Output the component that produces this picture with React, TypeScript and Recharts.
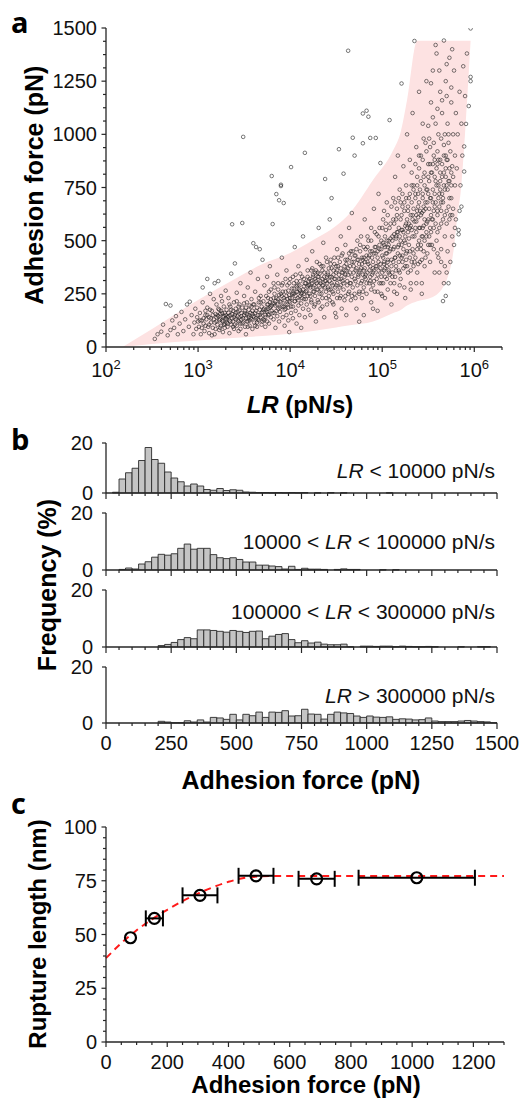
import React from "react";
import { Area, Bar, BarChart, ComposedChart, ErrorBar, Line, Scatter, XAxis, YAxis } from "recharts";

const FONT = '"Liberation Sans", Arial, sans-serif';
const AXIS = "#262626";

// ---- panel a: adhesion force vs loading rate (x = log10 LR) ----
const bandLogLR = [2.18, 2.5, 3.0, 3.38, 3.7, 4.0, 4.25, 4.5, 4.65, 4.9, 5.12, 5.2, 5.27, 5.38, 5.55, 5.7, 5.78, 5.82, 5.85, 5.9, 5.96];
const bandLow = [0, 14, 30, 42, 52, 62, 75, 92, 102, 120, 160, 174, 195, 215, 235, 315, 470, 630, 720, 1006, 1440];
const bandHigh = [0, 85, 221, 315, 390, 442, 503, 570, 630, 785, 926, 1010, 1161, 1440, 1440, 1440, 1440, 1440, 1440, 1440, 1440];

const lrForcePoints: [number, number][] = [
  [2.53,38],[2.56,60],[2.6,72],[2.62,105],[2.65,202],[2.67,55],[2.7,80],[2.72,125],[2.74,90],[2.76,145],[2.78,60],[2.8,110],[2.82,165],[2.84,75],[2.86,130],[2.88,200],[2.9,95],[2.91,213],[2.93,150],[2.95,60],[2.96,115],[2.97,180],[2.98,85],[2.99,140],[2.7,195],
  [3.01,95],[3.02,160],[3.03,60],[3.04,125],[3.05,210],[3.06,110],[3.07,75],[3.08,150],[3.09,130],[3.1,185],[3.11,95],[3.12,65],[3.12,140],[3.13,250],[3.14,115],[3.15,170],[3.16,90],[3.17,130],[3.18,300],[3.18,60],[3.19,155],[3.2,120],[3.2,200],[3.21,105],[3.22,145],[3.23,80],[3.23,175],[3.24,130],[3.25,240],[3.25,100],[3.26,160],[3.27,120],[3.27,70],[3.28,145],[3.28,190],[3.29,110],[3.3,135],[3.3,265],[3.15,55],[3.05,280],[3.1,320],[3.22,310],[3.08,100],[3.26,215],[3.29,90],[3.13,175],[3.19,85],[3.24,155],[3.02,125],[3.17,225],
  [3.31,115],[3.31,175],[3.32,140],[3.32,95],[3.33,160],[3.33,230],[3.34,125],[3.34,65],[3.35,150],[3.35,190],[3.36,105],[3.36,345],[3.37,577],[3.37,135],[3.38,170],[3.38,120],[3.39,210],[3.39,85],[3.4,393],[3.4,150],[3.41,130],[3.41,180],[3.42,100],[3.42,255],[3.43,145],[3.43,165],[3.44,120],[3.44,75],[3.45,200],[3.45,140],[3.46,110],[3.46,300],[3.47,160],[3.47,130],[3.48,583],[3.48,185],[3.49,988],[3.49,115],[3.5,150],[3.5,240],[3.51,95],[3.51,170],[3.52,135],[3.52,60],[3.53,210],[3.53,155],[3.54,120],[3.54,280],[3.55,175],[3.55,140],[3.56,100],[3.56,195],[3.57,160],[3.57,350],[3.58,130],[3.58,225],[3.59,85],[3.59,170],[3.6,488],[3.6,145],[3.61,200],[3.61,115],[3.62,260],[3.62,160],[3.63,135],[3.63,470],[3.64,185],[3.64,95],[3.65,150],[3.65,320],[3.66,210],[3.66,125],[3.67,175],[3.67,460],[3.68,140],[3.68,240],[3.69,105],[3.69,190],[3.7,165],[3.7,410],
  [3.71,130],[3.71,215],[3.72,180],[3.72,290],[3.73,150],[3.73,95],[3.74,240],[3.74,175],[3.75,120],[3.75,330],[3.76,200],[3.76,155],[3.77,260],[3.77,110],[3.78,185],[3.78,380],[3.79,140],[3.79,225],[3.8,804],[3.8,170],[3.81,578],[3.81,205],[3.82,130],[3.82,300],[3.83,250],[3.83,160],[3.84,90],[3.84,195],[3.85,719],[3.85,230],[3.86,145],[3.86,340],[3.87,180],[3.87,270],[3.88,690],[3.88,120],[3.89,215],[3.89,165],[3.9,757],[3.9,763],[3.9,250],[3.91,190],[3.91,420],[3.92,140],[3.92,300],[3.93,677],[3.93,230],[3.94,175],[3.94,100],[3.95,260],[3.95,200],[3.96,150],[3.96,360],[3.97,225],[3.97,290],[3.98,125],[3.98,185],[3.99,245],[3.99,70],[4.0,210],[4.0,320],[4.01,846],[4.01,160],[4.02,275],[4.02,230],[4.03,190],[4.03,135],[4.04,300],[4.04,250],[4.05,215],[4.05,470],[4.06,170],[4.06,340],[4.07,260],[4.07,110],[4.08,230],[4.08,290],[4.09,195],[4.09,380],[4.1,150],[4.1,270],[4.11,240],[4.11,310],[4.12,205],[4.12,90],[4.13,330],[4.13,255],[4.14,180],[4.14,520],[4.15,285],[4.15,225],[4.16,913],[4.16,140],[4.17,300],[4.17,260],[4.18,200],[4.18,410],[4.19,240],[4.19,330],[4.2,175],[4.2,290],
  [4.21,320],[4.21,250],[4.22,280],[4.22,150],[4.23,360],[4.23,210],[4.24,300],[4.24,450],[4.25,260],[4.25,330],[4.26,190],[4.26,290],[4.27,350],[4.27,240],[4.28,310],[4.28,120],[4.29,270],[4.29,400],[4.3,330],[4.3,220],[4.31,290],[4.31,560],[4.32,250],[4.32,345],[4.33,300],[4.33,180],[4.34,380],[4.34,270],[4.35,320],[4.35,230],[4.36,290],[4.36,490],[4.37,350],[4.37,140],[4.38,790],[4.38,310],[4.39,260],[4.39,420],[4.4,300],[4.4,200],[4.41,340],[4.41,280],[4.42,370],[4.42,240],[4.43,310],[4.43,600],[4.44,270],[4.44,390],[4.45,700],[4.45,330],[4.46,210],[4.46,290],[4.47,360],[4.47,250],[4.48,420],[4.48,320],[4.49,160],[4.49,280],[4.5,140],[4.5,350],[4.51,300],[4.51,460],[4.52,260],[4.52,380],[4.53,930],[4.53,320],[4.54,230],[4.54,400],[4.55,290],[4.55,520],[4.56,350],[4.56,180],[4.57,310],[4.57,440],[4.58,815],[4.58,270],[4.59,380],[4.59,330],[4.6,240],[4.6,480],[4.61,360],[4.61,150],[4.62,290],[4.62,410],[4.63,1393],[4.63,340],[4.64,260],[4.64,560],[4.65,380],[4.65,300],[4.66,220],[4.66,450],[4.67,330],[4.67,630],[4.68,984],[4.68,280],[4.69,400],[4.69,350],[4.7,900],[4.7,250],[4.71,430],[4.71,310],[4.72,370],[4.72,180],[4.73,500],[4.73,290],[4.74,340],[4.74,410],[4.75,119],[4.75,260],
  [4.76,360],[4.76,450],[4.77,300],[4.77,520],[4.78,390],[4.78,230],[4.79,1098],[4.79,958],[4.79,340],[4.8,420],[4.8,280],[4.81,370],[4.81,600],[4.82,320],[4.82,460],[4.83,1111],[4.83,250],[4.84,400],[4.84,350],[4.85,1083],[4.85,500],[4.86,300],[4.86,430],[4.87,983],[4.87,380],[4.88,210],[4.88,560],[4.89,340],[4.89,450],[4.9,290],[4.9,400],[4.91,650],[4.91,360],[4.92,470],[4.92,260],[4.93,983],[4.93,380],[4.94,320],[4.94,530],[4.95,420],[4.95,170],[4.96,360],[4.96,720],[4.97,300],[4.97,460],[4.98,865],[4.98,390],[4.99,250],[4.99,500],[5.0,350],[5.0,430],[5.01,600],[5.01,300],[5.02,400],[5.02,480],[5.03,230],[5.03,370],[5.04,550],[5.04,440],[5.05,320],[5.05,680],[5.06,400],[5.06,270],[5.07,500],[5.07,360],[5.08,1067],[5.08,450],[5.09,300],[5.09,580],[5.1,410],[5.1,200],
  [4.78,420],[4.81,330],[4.84,470],[4.87,310],[4.9,350],[4.93,440],[4.96,400],[4.99,330],[5.02,360],[5.05,380],[5.08,340],[4.8,150],[4.9,180],[5.0,240],[4.95,260],[4.85,390],[4.88,270],[5.03,520],[5.06,470],[4.97,560],
  [5.11,350],[5.11,520],[5.12,460],[5.12,700],[5.13,300],[5.13,580],[5.14,420],[5.14,800],[5.15,380],[5.15,520],[5.16,650],[5.16,250],[5.17,470],[5.17,900],[5.18,360],[5.18,560],[5.19,430],[5.19,740],[5.2,500],[5.2,320],[5.21,1239],[5.21,620],[5.22,400],[5.22,550],[5.23,850],[5.23,460],[5.24,280],[5.24,680],[5.25,520],[5.25,380],[5.26,760],[5.26,440],[5.27,600],[5.27,1000],[5.28,350],[5.28,540],[5.29,700],[5.29,480],[5.3,420],[5.3,880],[5.31,620],[5.31,300],[5.32,550],[5.32,760],[5.33,460],[5.33,1100],[5.34,380],[5.34,650],[5.35,1439],[5.35,520],[5.36,720],[5.36,420],[5.37,940],[5.37,590],[5.38,350],[5.38,800],[5.39,480],[5.39,660],[5.4,1200],[5.4,560],[5.41,400],[5.41,740],[5.42,620],[5.42,900],[5.43,300],[5.43,520],[5.44,700],[5.44,1050],[5.45,450],[5.45,800],[5.46,600],[5.46,380],[5.47,960],[5.47,680],[5.48,520],[5.48,1250],[5.49,740],[5.49,440],[5.5,860],[5.5,600],
  [5.12,400],[5.15,600],[5.18,480],[5.21,420],[5.24,500],[5.27,450],[5.3,560],[5.33,620],[5.36,560],[5.39,720],[5.42,460],[5.45,640],[5.48,580],[5.14,330],[5.2,680],[5.26,580],[5.32,400],[5.38,640],[5.44,560],[5.5,720],[5.16,540],[5.22,720],[5.28,640],[5.34,760],[5.4,840],[5.46,760],[5.13,260],[5.19,290],[5.25,230],[5.31,270],[5.37,300],[5.43,250],
  [5.51,520],[5.51,980],[5.52,700],[5.52,400],[5.53,1150],[5.53,620],[5.54,820],[5.54,480],[5.55,1300],[5.55,740],[5.56,560],[5.56,900],[5.57,350],[5.57,660],[5.58,1050],[5.58,780],[5.59,500],[5.59,1380],[5.6,860],[5.6,640],[5.61,420],[5.61,1000],[5.62,720],[5.62,560],[5.63,1200],[5.63,880],[5.64,460],[5.64,680],[5.65,1100],[5.65,800],[5.66,216],[5.66,600],[5.67,1441],[5.67,300],[5.67,950],[5.68,740],[5.68,520],[5.69,240],[5.69,1250],[5.7,350],[5.7,880],[5.7,640],[5.71,1050],[5.71,450],[5.72,300],[5.72,780],[5.73,1360],[5.73,600],[5.74,920],[5.74,400],[5.75,700],[5.75,1150],[5.76,520],[5.76,850],[5.77,1000],[5.77,650],[5.78,480],[5.78,1300],[5.79,760],[5.79,900],[5.8,600],[5.8,1100],
  [5.52,860],[5.55,600],[5.58,680],[5.61,760],[5.64,580],[5.67,820],[5.7,760],[5.73,700],[5.76,620],[5.79,560],[5.53,540],[5.57,880],[5.6,540],[5.63,780],[5.66,700],[5.69,900],[5.72,1000],[5.75,820],
  [5.81,840],[5.82,1000],[5.83,530],[5.83,550],[5.84,1200],[5.85,760],[5.86,1050],[5.87,900],[5.88,1320],[5.89,943],[5.89,825],[5.9,1180],[5.91,1049],[5.92,1380],[5.94,1133],[5.96,1250],[5.96,1270],[5.96,1498],[5.86,660],[5.84,640],
];

// extra points read from the darkest parts of the cloud
const lrForceCore: [number, number][] = [
  [3.21,150],[3.23,125],[3.25,170],[3.27,140],[3.29,160],[3.31,130],[3.33,145],[3.35,120],[3.37,155],[3.39,140],[3.41,160],[3.43,125],[3.45,170],[3.47,145],[3.49,135],[3.51,160],[3.53,120],[3.55,150],[3.57,135],[3.59,155],[3.61,140],[3.63,170],[3.65,130],[3.67,150],[3.69,160],[3.71,175],[3.73,140],[3.75,165],[3.32,110],[3.36,175],[3.4,105],[3.44,190],[3.48,110],[3.52,185],[3.56,125],[3.6,200],[3.64,115],[3.68,210],[3.72,125],[3.76,230],[3.34,200],[3.38,95],[3.42,215],[3.46,85],[3.5,205],[3.54,95],[3.58,190],[3.62,100],[3.66,230],[3.7,120],[3.3,150],[3.26,125],[3.22,180],[3.28,105],[3.24,90],[3.2,140],[3.18,115],[3.16,150],[3.14,135],[3.12,105],[3.1,150],[3.08,170],[3.06,135],[3.04,90],[3.0,120],
  [3.76,180],[3.78,210],[3.8,195],[3.82,230],[3.84,215],[3.86,200],[3.88,245],[3.9,210],[3.92,260],[3.94,220],[3.96,240],[3.98,265],[4.0,230],[4.02,250],[4.04,275],[4.06,240],[4.08,260],[4.1,290],[4.12,250],[4.14,270],[4.16,300],[4.18,265],[4.2,310],[3.77,150],[3.81,160],[3.85,170],[3.89,185],[3.93,190],[3.97,200],[4.01,190],[4.05,215],[4.09,220],[4.13,230],[4.17,225],[3.79,270],[3.83,280],[3.87,300],[3.91,290],[3.95,320],[3.99,300],[4.03,330],[4.07,310],[4.11,345],[4.15,320],[4.19,360],[3.75,200],[3.79,190],[3.83,205],[3.87,225],[3.91,240],[3.95,180],[3.99,215],[4.03,255],[4.07,285],[4.11,265],[4.15,250],[4.19,285],
  [4.21,290],[4.23,310],[4.25,280],[4.27,320],[4.29,300],[4.31,330],[4.33,310],[4.35,290],[4.37,330],[4.39,310],[4.41,350],[4.43,330],[4.45,300],[4.47,340],[4.49,320],[4.51,360],[4.53,340],[4.55,370],[4.57,350],[4.59,360],[4.61,390],[4.63,370],[4.65,350],[4.67,400],[4.69,380],[4.71,360],[4.73,410],[4.75,390],[4.77,370],[4.79,410],
  [4.22,240],[4.26,260],[4.3,270],[4.34,250],[4.38,280],[4.42,270],[4.46,260],[4.5,290],[4.54,280],[4.58,300],[4.62,310],[4.66,300],[4.7,320],[4.74,330],[4.78,310],
  [4.24,370],[4.28,360],[4.32,390],[4.36,380],[4.4,400],[4.44,410],[4.48,390],[4.52,420],[4.56,430],[4.6,410],[4.64,440],[4.68,450],[4.72,460],[4.76,480],[4.8,470],
  [4.23,220],[4.27,200],[4.31,210],[4.35,190],[4.39,230],[4.43,220],[4.47,200],[4.51,230],[4.55,240],[4.59,220],[4.63,250],[4.67,240],[4.71,230],[4.75,250],[4.79,260],
  [4.25,340],[4.3,350],[4.35,360],[4.4,330],[4.45,370],[4.5,380],[4.55,320],[4.6,340],[4.65,420],[4.7,430],[4.75,350],[4.8,360],
  [4.81,400],[4.83,430],[4.85,420],[4.87,450],[4.89,420],[4.91,440],[4.93,470],[4.95,450],[4.97,480],[4.99,460],[5.01,490],[5.03,470],[5.05,500],[5.07,480],[5.09,510],[5.11,500],[5.13,530],[5.15,510],[5.17,540],[5.19,520],[5.21,550],[5.23,540],[5.25,570],[5.27,560],[5.29,580],[5.31,570],[5.33,600],[5.35,590],[5.37,620],[5.39,610],[5.41,640],[5.43,630],[5.45,660],[5.47,650],[5.49,680],
  [4.82,340],[4.86,360],[4.9,370],[4.94,380],[4.98,370],[5.02,390],[5.06,410],[5.1,380],[5.14,420],[5.18,400],[5.22,430],[5.26,410],[5.3,450],[5.34,440],[5.38,460],[5.42,480],[5.46,500],[5.5,480],
  [4.84,520],[4.88,500],[4.92,540],[4.96,520],[5.0,560],[5.04,580],[5.08,560],[5.12,600],[5.16,620],[5.2,600],[5.24,640],[5.28,660],[5.32,680],[5.36,700],[5.4,680],[5.44,720],[5.48,740],
  [4.83,300],[4.87,330],[4.91,310],[4.95,340],[4.99,300],[5.03,330],[5.07,350],[5.11,330],[5.15,360],[5.19,350],[5.23,370],[5.27,380],[5.31,360],[5.35,400],[5.39,390],[5.43,410],[5.47,420],
  [5.01,420],[5.05,440],[5.09,460],[5.13,470],[5.17,440],[5.21,480],[5.25,490],[5.29,510],[5.33,520],[5.37,540],[5.41,560],[5.45,570],[5.49,590],
  [5.02,640],[5.06,620],[5.1,660],[5.14,680],[5.18,700],[5.22,660],[5.26,700],[5.3,720],[5.34,740],[5.38,760],[5.42,780],[5.46,820],[5.5,800],
  [5.32,820],[5.36,860],[5.4,900],[5.44,880],[5.48,920],[5.52,940],[5.56,960],[5.6,920],[5.64,980],[5.68,1000],[5.72,960],
  [5.51,650],[5.53,700],[5.55,680],[5.57,720],[5.59,760],[5.61,700],[5.63,740],[5.65,720],[5.67,760],[5.69,800],[5.71,740],[5.73,780],[5.75,760],
  [5.52,560],[5.54,600],[5.56,640],[5.58,580],[5.6,620],[5.62,660],[5.64,640],[5.66,680],[5.68,620],[5.7,580],[5.72,660],[5.74,620],
  [5.51,780],[5.53,820],[5.55,860],[5.57,800],[5.59,840],[5.61,880],[5.63,820],[5.65,860],[5.67,900],[5.69,840],[5.71,880],[5.73,840],[5.77,800],
  [5.45,980],[5.5,1040],[5.55,1080],[5.6,1120],[5.65,1160],[5.7,1180],[5.75,1220],[5.53,1240],[5.62,1300],[5.7,1330],[5.58,1420],[5.76,1400],
  [5.4,500],[5.44,520],[5.48,540],[5.52,480],[5.56,460],[5.6,440],[5.64,400],[5.68,380],[5.62,350],
];

// ---- panel b: histograms, 25 pN bins from 0 to 1500 ----
const binStarts = Array.from({ length: 60 }, (_, i) => i * 25);
const freqSlow = [
  0, 0.3, 5.6, 8.1, 9.9, 13.0, 18.2, 13.4, 11.9, 8.4,
  6.0, 4.5, 2.8, 3.6, 2.8, 1.4, 1.1, 1.8, 1.0, 1.3,
  1.1, 0.4, 0.3, 0.2, 0.2, 0.1, 0.2, 0.1, 0.2, 0.1,
  0.2, 0, 0.1, 0, 0.2, 0, 0.1, 0, 0, 0,
  0, 0, 0, 0.1, 0, 0, 0, 0, 0, 0,
  0, 0, 0, 0, 0, 0, 0, 0, 0, 0,
];
const freqMid = [
  0, 0, 0.2, 0.7, 0.35, 2.1, 2.9, 4.5, 5.5, 5.2,
  5.7, 7.6, 9.1, 7.3, 7.6, 7.6, 5.4, 4.3, 4.0, 4.3,
  3.7, 2.8, 2.8, 1.7, 1.7, 1.4, 1.2, 0.35, 1.3, 0.2,
  0.6, 0.3, 0.3, 0.2, 0, 0.2, 0.4, 0.2, 0.2, 0,
  0, 0, 0.1, 0, 0.1, 0, 0, 0, 0, 0,
  0, 0, 0, 0, 0, 0, 0, 0, 0, 0,
];
const freqFast = [
  0, 0, 0, 0, 0, 0, 0, 0, 0.5, 0.9,
  1.6, 2.6, 3.3, 2.9, 6.0, 6.0, 5.8, 5.5, 5.2, 5.8,
  5.5, 5.1, 5.5, 5.6, 2.9, 3.8, 4.4, 4.7, 2.6, 1.5,
  2.2, 1.4, 1.7, 1.0, 0.8, 0.8, 1.0, 0.1, 0, 0.3,
  0.3, 0.2, 0.3, 0.3, 0.1, 0.3, 0.2, 0.1, 0.1, 0.2,
  0.1, 0, 0, 0, 0.1, 0, 0, 0.1, 0.1, 0,
];
const freqFastest = [
  0, 0, 0, 0, 0, 0, 0, 0, 0.6, 0.35,
  0.1, 0.1, 0.8, 0.35, 1.1, 0.35, 2.0, 1.8, 1.3, 3.1,
  1.1, 3.1, 2.6, 3.9, 2.0, 3.9, 3.8, 4.4, 2.5, 2.6,
  4.9, 3.2, 3.1, 1.4, 3.1, 3.9, 3.6, 3.4, 2.5, 2.0,
  2.5, 2.1, 2.0, 2.2, 1.3, 1.5, 1.4, 1.1, 1.2, 1.8,
  0.7, 0.5, 0.5, 0.5, 0.7, 0.9, 0.7, 0.5, 0.4, 0.1,
];

// ---- panel c: rupture length vs adhesion force ----
const cForce = [80, 158, 307, 490, 688, 1015];
const cLength = [48.5, 57.5, 68.2, 77.3, 75.9, 76.4];
const cForceErr = [null, 28, 57, 57, 59, 190];
const fitForce = [0, 50, 100, 150, 200, 250, 300, 350, 400, 450, 500, 550, 600, 800, 1000, 1200, 1300];
const fitLength = [39, 46, 52, 57, 61.5, 65.5, 69, 72, 74.5, 76.3, 77, 77.2, 77.2, 77.2, 77.2, 77.2, 77.2];

const bandData = bandLogLR.map((x, i) => ({ x, band: [bandLow[i], bandHigh[i]] }));
const scatterData = [...lrForcePoints, ...lrForceCore].map(([x, y]) => ({ x, y }));
const cData = cForce.map((x, i) => ({ x, y: cLength[i], err: cForceErr[i] ?? undefined }));
const fitData = fitForce.map((x, i) => ({ x, y: fitLength[i] }));

const LOG_END = Math.log10(2e6);
const logTicks: number[] = [];
for (let d = 2; d <= 6; d++) for (let k = 1; k <= 9; k++) { const t = Math.log10(k * 10 ** d); if (t <= LOG_END + 1e-9) logTicks.push(t); }
const range = (a: number, b: number, s: number) => Array.from({ length: Math.round((b - a) / s) + 1 }, (_, i) => a + i * s);

const isIn = (list: number[], v: number) => list.some((m) => Math.abs(m - v) < 1e-6);

const xTick = (majors: number[], labelDy: number, label?: (v: number) => React.ReactNode, majorLen = 5, minorLen = 3) =>
  (p: any) => {
    const v = p.payload.value;
    const major = isIn(majors, v);
    return (
      <g>
        <line x1={p.x} x2={p.x} y1={p.y} y2={p.y + (major ? majorLen : minorLen)} stroke={AXIS} strokeWidth={1.2} />
        {major && label ? <text x={p.x} y={p.y + labelDy} textAnchor="middle" fontSize={20} fill="#111" fontFamily={FONT}>{label(v)}</text> : null}
      </g>
    );
  };

const yTick = (majors: number[], gap: number, majorLen = 5, minorLen = 3) =>
  (p: any) => {
    const v = p.payload.value;
    const major = isIn(majors, v);
    return (
      <g>
        <line x1={p.x - (major ? majorLen : minorLen)} x2={p.x} y1={p.y} y2={p.y} stroke={AXIS} strokeWidth={1.2} />
        {major ? <text x={p.x - gap} y={p.y + 7} textAnchor="end" fontSize={20} fill="#111" fontFamily={FONT}>{v}</text> : null}
      </g>
    );
  };

const pow10 = (v: number) => (
  <>
    <tspan>10</tspan>
    <tspan dy={-8} fontSize={13}>{Math.round(v)}</tspan>
  </>
);

const axisLine = { stroke: AXIS, strokeWidth: 1.3 };

function Histogram({ values, top, plotH, labels }: { values: number[]; top: number; plotH: number; labels: boolean }) {
  const data = binStarts.map((s, i) => ({ bin: s + 12.5, f: values[i] }));
  const axisH = labels ? 34 : 10;
  const padTop = 12;
  return (
    <div style={{ position: "absolute", left: 0, top: top - padTop }}>
      <BarChart width={524} height={plotH + padTop + axisH} data={data} margin={{ top: padTop, right: 27, bottom: 0, left: 0 }} barCategoryGap={0} barGap={0}>
        <XAxis dataKey="bin" type="number" domain={[0, 1500]} ticks={range(0, 1500, 50)} interval={0} height={axisH}
          tickSize={0} tickMargin={0} tickLine={false} axisLine={axisLine}
          tick={xTick(range(0, 1500, 250), 27, labels ? (v) => v : undefined, 6, 3)} />
        <YAxis type="number" domain={[0, 20]} ticks={[0, 20]} interval={0} width={106} tickSize={0} tickMargin={0} tickLine={false}
          axisLine={axisLine} tick={yTick([0, 20], 13, 4)} />
        <Bar dataKey="f" barSize={6.5} fill="#c4c4c4" stroke="#2a2a2a" strokeWidth={0.9} isAnimationActive={false} />
      </BarChart>
    </div>
  );
}

export default function App() {
  return (
    <div style={{ position: "absolute", left: 0, top: 0, width: 524, height: 1101, background: "#fff", fontFamily: FONT }}>
      <div style={{ position: "absolute", left: 0, top: 0 }}>
        <ComposedChart width={524} height={392} margin={{ top: 28, right: 22, bottom: 0, left: 0 }}>
          <XAxis type="number" dataKey="x" domain={[2, LOG_END]} ticks={logTicks} interval={0} height={45} allowDataOverflow
            tickSize={0} tickMargin={0} tickLine={false} axisLine={axisLine} tick={xTick([2, 3, 4, 5, 6], 30, pow10, 5, 3)} />
          <YAxis type="number" domain={[0, 1500]} ticks={range(0, 1500, 62.5)} interval={0} width={106} allowDataOverflow
            tickSize={0} tickMargin={0} tickLine={false} axisLine={axisLine} tick={yTick(range(0, 1500, 250), 9, 4.5, 3)} />
          <Area data={bandData} dataKey="band" type="monotone" fill="#fde2e2" fillOpacity={1} stroke="none" isAnimationActive={false} />
          <Scatter data={scatterData} dataKey="y" isAnimationActive={false}
            shape={(p: any) => <circle cx={p.cx} cy={p.cy} r={1.8} fill="none" stroke="#222" strokeOpacity={0.8} strokeWidth={0.75} />} />
        </ComposedChart>
      </div>

      <Histogram values={freqSlow} top={443} plotH={50} labels={false} />
      <Histogram values={freqMid} top={513} plotH={57} labels={false} />
      <Histogram values={freqFast} top={590} plotH={57} labels={false} />
      <Histogram values={freqFastest} top={667} plotH={56} labels={true} />

      <div style={{ position: "absolute", left: 0, top: 800 }}>
        <ComposedChart width={524} height={278} margin={{ top: 27, right: 20, bottom: 0, left: 0 }}>
          <XAxis type="number" dataKey="x" domain={[0, 1300]} ticks={range(0, 1300, 50)} interval={0} height={36}
            tickSize={0} tickMargin={0} tickLine={false} axisLine={axisLine} tick={xTick(range(0, 1200, 200), 27, (v) => v, 5, 3)} />
          <YAxis type="number" domain={[0, 100]} ticks={range(0, 100, 5)} interval={0} width={106}
            tickSize={0} tickMargin={0} tickLine={false} axisLine={axisLine} tick={yTick(range(0, 100, 25), 9, 4.5, 3)} />
          <Line data={fitData} dataKey="y" type="monotone" stroke="#ff1a1a" strokeWidth={2} strokeDasharray="7 5" dot={false} isAnimationActive={false} />
          <Scatter data={cData} dataKey="y" isAnimationActive={false}
            shape={(p: any) => <circle cx={p.cx} cy={p.cy} r={5.5} fill="none" stroke="#000" strokeWidth={2.2} />}>
            <ErrorBar dataKey="err" direction="x" width={8} stroke="#000" strokeWidth={2} />
          </Scatter>
        </ComposedChart>
      </div>

      <svg width={524} height={1101} style={{ position: "absolute", left: 0, top: 0, pointerEvents: "none" }} fontFamily={FONT}>
        <g fontFamily='"Open Sans", sans-serif' fontWeight={700} fontSize={29} fill="#000">
          <text x={11} y={33}>a</text>
          <text x={11} y={450}>b</text>
          <text x={11} y={814}>c</text>
        </g>
        <g fontWeight={700} fill="#000">
          <text transform="translate(43,185) rotate(-90)" textAnchor="middle" fontSize={25}>Adhesion force (pN)</text>
          <text x={300} y={413} textAnchor="middle" fontSize={24}><tspan fontStyle="italic">LR</tspan> (pN/s)</text>
          <text transform="translate(56,585) rotate(-90)" textAnchor="middle" fontSize={25}>Frequency (%)</text>
          <text x={301} y={789} textAnchor="middle" fontSize={25}>Adhesion force (pN)</text>
          <text transform="translate(46,934) rotate(-90)" textAnchor="middle" fontSize={24}>Rupture length (nm)</text>
          <text x={306} y={1093} textAnchor="middle" fontSize={24}>Adhesion force (pN)</text>
        </g>
        <g fontSize={21} fill="#111" textAnchor="end">
          <text x={495} y={478}><tspan fontStyle="italic">LR</tspan>{" < 10000 pN/s"}</text>
          <text x={495} y={549}>{"10000 < "}<tspan fontStyle="italic">LR</tspan>{" < 100000 pN/s"}</text>
          <text x={495} y={619}>{"100000 < "}<tspan fontStyle="italic">LR</tspan>{" < 300000 pN/s"}</text>
          <text x={495} y={703}><tspan fontStyle="italic">LR</tspan>{" > 300000 pN/s"}</text>
        </g>
      </svg>
    </div>
  );
}
